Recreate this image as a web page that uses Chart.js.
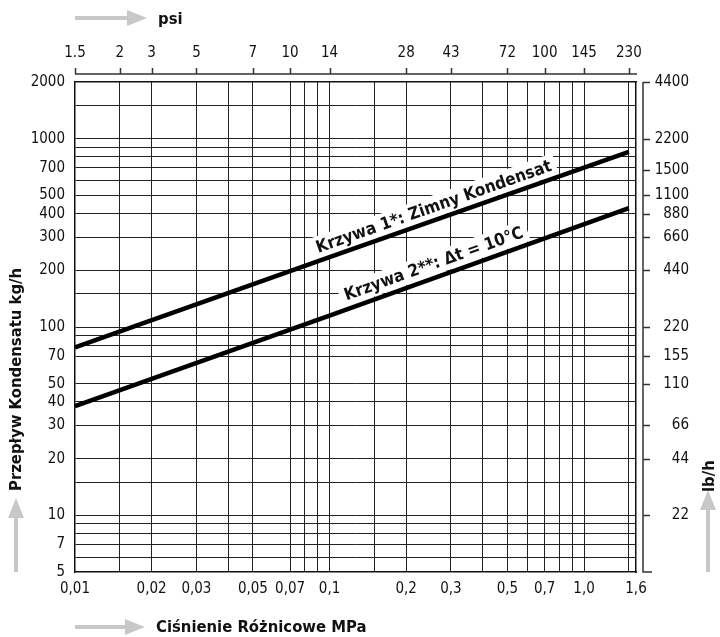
<!DOCTYPE html>
<html>
<head>
<meta charset="utf-8">
<script src="https://cdn.jsdelivr.net/npm/chart.js@4.4.1/dist/chart.umd.min.js"></script>
<style>
  html, body { margin: 0; padding: 0; background: #fff; }
  #wrap { width: 720px; height: 637px; }
</style>
</head>
<body>
<div id="wrap"><canvas id="chart"></canvas></div>
<script>
// differential pressure (MPa) vs condensate flow (kg/h)
const curve1X = [0.01, 0.1, 1.5];
const curve1Y = [78, 235, 850];   // Krzywa 1, cold condensate
const curve2X = [0.01, 0.1, 1.5];
const curve2Y = [38, 115, 428];   // Krzywa 2, dt = 10 C

// bottom axis (MPa)
const mpaTicks = [0.01, 0.02, 0.03, 0.05, 0.07, 0.1, 0.2, 0.3, 0.5, 0.7, 1.0, 1.6];
const mpaLabels = ['0,01', '0,02', '0,03', '0,05', '0,07', '0,1', '0,2', '0,3', '0,5', '0,7', '1,0', '1,6'];
const mpaGrid = [0.015, 0.02, 0.03, 0.04, 0.05, 0.07, 0.08, 0.09, 0.1, 0.15, 0.2, 0.3, 0.4, 0.5, 0.6, 0.7, 0.8, 0.9, 1.0, 1.5];

// top axis (psi), placed on the MPa grid lines like the original
const psiLabels = ['1.5', '2', '3', '5', '7', '10', '14', '28', '43', '72', '100', '145', '230'];
const psiAtMpa = [0.01, 0.015, 0.02, 0.03, 0.05, 0.07, 0.1, 0.2, 0.3, 0.5, 0.7, 1.0, 1.5];

// left axis (kg/h) and right axis (lb/h)
const kgTicks = [5, 7, 10, 20, 30, 40, 50, 70, 100, 200, 300, 400, 500, 700, 1000, 2000];
const kgGrid = [6, 7, 8, 9, 10, 15, 20, 30, 40, 50, 70, 80, 90, 100, 150, 200, 300, 400, 500, 600, 700, 800, 900, 1000, 1500];
const lbTicks = [22, 44, 66, 110, 155, 220, 440, 660, 880, 1100, 1500, 2200, 4400];

const curveLabels = ['Krzywa 1*: Zimny Kondensat', 'Krzywa 2**: \u0394t = 10\u00b0C'];
const curveLabelAt = [0.267, 0.267];

const FAM = "'DejaVu Sans Condensed', 'DejaVu Sans', sans-serif";
const tickFont = { family: FAM, size: 15 };
const INK = '#111';
const GRID = '#222';
const ARROW = '#c8c8c8';

function merged(a, b) {
  return Array.from(new Set(a.concat(b))).sort((p, q) => p - q);
}

function gridColor(list) {
  return ctx => (ctx.tick && list.includes(ctx.tick.value)) ? GRID : 'rgba(0,0,0,0)';
}

function arrow(ctx, x1, y1, x2, y2) {
  const a = Math.atan2(y2 - y1, x2 - x1);
  const head = 20, half = 8;
  const bx = x2 - Math.cos(a) * head, by = y2 - Math.sin(a) * head;
  ctx.save();
  ctx.strokeStyle = ARROW;
  ctx.fillStyle = ARROW;
  ctx.lineWidth = 4;
  ctx.beginPath();
  ctx.moveTo(x1, y1);
  ctx.lineTo(bx, by);
  ctx.stroke();
  ctx.beginPath();
  ctx.moveTo(x2, y2);
  ctx.lineTo(bx - Math.sin(a) * half, by + Math.cos(a) * half);
  ctx.lineTo(bx + Math.sin(a) * half, by - Math.cos(a) * half);
  ctx.closePath();
  ctx.fill();
  ctx.restore();
}

// labels written along the curves, on a white patch
const curveText = {
  id: 'curveText',
  beforeDatasetsDraw(chart) {
    const ctx = chart.ctx;
    const xs = chart.scales.x;
    chart.data.datasets.forEach((ds, i) => {
      const pts = chart.getDatasetMeta(i).data;
      const p0 = pts[0], p1 = pts[pts.length - 1];
      const ang = Math.atan2(p1.y - p0.y, p1.x - p0.x);
      const ax = xs.getPixelForValue(curveLabelAt[i]);
      const ay = p0.y + (p1.y - p0.y) * (ax - p0.x) / (p1.x - p0.x);
      const off = 12.5;
      const cx = ax + Math.sin(ang) * off;
      const cy = ay - Math.cos(ang) * off;
      ctx.save();
      ctx.translate(cx, cy);
      ctx.rotate(ang);
      ctx.font = 'bold 17px ' + FAM;
      const w = ctx.measureText(curveLabels[i]).width;
      ctx.fillStyle = '#fff';
      ctx.fillRect(-w / 2 - 5, -12, w + 10, 22);
      ctx.fillStyle = INK;
      ctx.textAlign = 'center';
      ctx.textBaseline = 'middle';
      ctx.fillText(curveLabels[i], 0, 0);
      ctx.restore();
    });
  }
};

// psi line, lb/h line, axis titles and grey arrows
const decor = {
  id: 'decor',
  afterDraw(chart) {
    const ctx = chart.ctx;
    const area = chart.chartArea;
    const x2 = chart.scales.x2;
    const y2 = chart.scales.y2;
    ctx.save();
    ctx.strokeStyle = '#333';
    ctx.lineWidth = 1.5;

    const py = area.top - 8;
    ctx.beginPath();
    ctx.moveTo(area.left, py);
    ctx.lineTo(area.right + 1, py);
    x2.ticks.forEach((t, i) => {
      const px = Math.round(x2.getPixelForTick(i)) + 0.5;
      ctx.moveTo(px, py);
      ctx.lineTo(px, py - 6);
    });
    ctx.stroke();

    const rx = area.right + 7;
    ctx.beginPath();
    ctx.moveTo(rx, area.top);
    ctx.lineTo(rx, area.bottom);
    ctx.lineTo(rx + 9, area.bottom);
    y2.ticks.forEach((t, i) => {
      const ty = Math.round(y2.getPixelForTick(i)) + 0.5;
      ctx.moveTo(rx, ty);
      ctx.lineTo(rx + 7, ty);
    });
    ctx.stroke();

    arrow(ctx, 75, 18, 147, 18);
    arrow(ctx, 75, 627, 145, 627);
    arrow(ctx, 16, 572, 16, 498);
    arrow(ctx, 708, 572, 708, 490);

    ctx.fillStyle = INK;
    ctx.font = 'bold 16.5px ' + FAM;
    ctx.textBaseline = 'middle';
    ctx.textAlign = 'left';
    ctx.fillText('psi', 158, 20);
    ctx.fillText('Ci\u015bnienie R\u00f3\u017cnicowe MPa', 156, 628);

    ctx.save();
    ctx.translate(17, 491);
    ctx.rotate(-Math.PI / 2);
    ctx.fillText('Przep\u0142yw Kondensatu kg/h', 0, 0);
    ctx.restore();

    ctx.save();
    ctx.translate(710, 492);
    ctx.rotate(-Math.PI / 2);
    ctx.fillText('lb/h', 0, 0);
    ctx.restore();

    ctx.restore();
  }
};

new Chart(document.getElementById('chart'), {
  type: 'line',
  data: {
    datasets: [
      {
        data: curve1X.map((x, i) => ({ x: x, y: curve1Y[i] })),
        borderColor: '#000', borderWidth: 4.5, pointRadius: 0, tension: 0, fill: false
      },
      {
        data: curve2X.map((x, i) => ({ x: x, y: curve2Y[i] })),
        borderColor: '#000', borderWidth: 4.5, pointRadius: 0, tension: 0, fill: false
      }
    ]
  },
  options: {
    responsive: true,
    maintainAspectRatio: false,
    animation: false,
    layout: { padding: { left: 0, right: 31, top: 0, bottom: 0 } },
    plugins: { legend: { display: false }, tooltip: { enabled: false } },
    scales: {
      x: {
        type: 'logarithmic', position: 'bottom', min: 0.01, max: 1.6,
        afterBuildTicks: s => { s.ticks = merged(mpaTicks, mpaGrid).map(v => ({ value: v })); },
        afterFit: s => { s.height = 65; },
        grid: { color: gridColor(mpaGrid), lineWidth: 1, drawTicks: false },
        border: { color: INK, width: 1.5 },
        ticks: {
          font: tickFont, color: INK, padding: 8, autoSkip: false, maxRotation: 0, minRotation: 0,
          callback: v => { const k = mpaTicks.indexOf(v); return k < 0 ? '' : mpaLabels[k]; }
        }
      },
      x2: {
        type: 'logarithmic', position: 'top', min: 0.01, max: 1.6,
        afterBuildTicks: s => { s.ticks = psiAtMpa.map(v => ({ value: v })); },
        afterFit: s => { s.height = 82; },
        grid: { display: false, drawTicks: false },
        border: { color: INK, width: 1.5 },
        ticks: {
          font: tickFont, color: INK, padding: 20, autoSkip: false, maxRotation: 0, minRotation: 0,
          callback: (v, i) => psiLabels[i]
        }
      },
      y: {
        type: 'logarithmic', position: 'left', min: 5, max: 2000,
        afterBuildTicks: s => { s.ticks = merged(kgTicks, kgGrid).map(v => ({ value: v })); },
        afterFit: s => { s.width = 75; },
        grid: { color: gridColor(kgGrid), lineWidth: 1, drawTicks: false },
        border: { color: INK, width: 1.5 },
        ticks: {
          font: tickFont, color: INK, padding: 10, autoSkip: false,
          callback: v => kgTicks.includes(v) ? String(v) : ''
        }
      },
      y2: {
        type: 'logarithmic', position: 'right', min: 11, max: 4400,
        afterBuildTicks: s => { s.ticks = lbTicks.map(v => ({ value: v })); },
        afterFit: s => { s.width = 53; },
        grid: { display: false, drawTicks: false },
        border: { color: INK, width: 1.5 },
        ticks: {
          font: tickFont, color: INK, padding: 19, autoSkip: false, crossAlign: 'far',
          callback: v => String(v)
        }
      }
    }
  },
  plugins: [curveText, decor]
});
</script>
</body>
</html>
